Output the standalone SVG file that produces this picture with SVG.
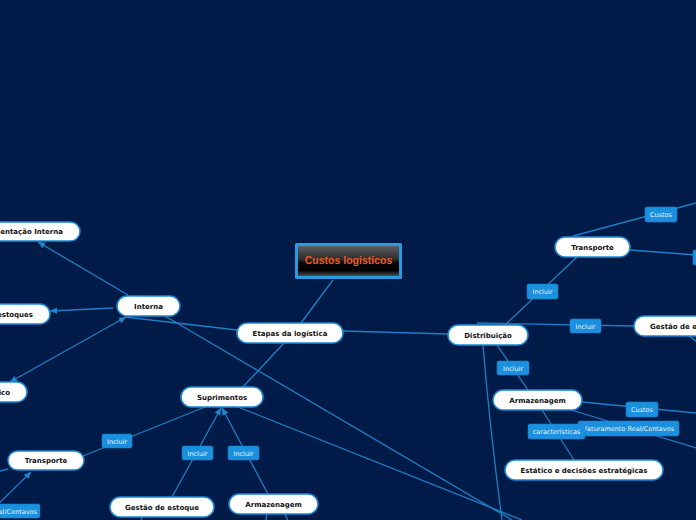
<svg xmlns="http://www.w3.org/2000/svg" width="696" height="520" viewBox="0 0 696 520">
<defs>
<linearGradient id="cg" x1="0" y1="0" x2="0" y2="1">
<stop offset="0" stop-color="#5e5e5e"/>
<stop offset="0.45" stop-color="#2c2c2c"/>
<stop offset="0.55" stop-color="#0a0a0a"/>
<stop offset="0.82" stop-color="#000"/>
<stop offset="1" stop-color="#505050"/>
</linearGradient>
<marker id="ar" markerUnits="userSpaceOnUse" markerWidth="8" markerHeight="8" refX="7" refY="4" orient="auto-start-reverse">
<path d="M0,0.8 L7,4 L0,7.2 Z" fill="#1e86d0"/>
</marker>
<style>
.bg{fill:#001b48}
.ln{stroke:#1e7fc6;stroke-width:1.3;fill:none}
.pill{fill:#fff;stroke:#1a8ad8;stroke-width:1.5}
.nt{font-family:"DejaVu Sans",Verdana,sans-serif;font-size:7px;font-weight:bold;fill:#111;text-anchor:middle}
.lb{fill:#1a90de;stroke:#1580c8;stroke-width:0.6}
.lt{font-family:"DejaVu Sans",Verdana,sans-serif;font-size:6.5px;fill:#e8f4ff;text-anchor:middle}
</style>
</defs>
<rect class="bg" x="0" y="0" width="696" height="520"/>
<g id="connectors">
<line class="ln" x1="333" y1="280" x2="301" y2="323"/>
<line class="ln" x1="284" y1="343" x2="243" y2="387"/>
<line class="ln" x1="237" y1="330" x2="125" y2="317"/>
<line class="ln" x1="165" y1="316" x2="512" y2="520"/>
<line class="ln" x1="238" y1="407" x2="522" y2="520"/>
<path class="ln" d="M483,345 Q490,430 502,520"/>
<line class="ln" x1="343" y1="331" x2="448" y2="334"/>
<line class="ln" x1="577" y1="257" x2="505" y2="325"/>
<line class="ln" x1="477" y1="323" x2="634" y2="326"/>
<line class="ln" x1="573" y1="236" x2="696" y2="203"/>
<line class="ln" x1="630" y1="250" x2="696" y2="255"/>
<line class="ln" x1="689" y1="336" x2="700" y2="344"/>
<line class="ln" x1="497" y1="345" x2="528" y2="390"/>
<line class="ln" x1="582" y1="402" x2="696" y2="413"/>
<line class="ln" x1="568" y1="409" x2="696" y2="448"/>
<line class="ln" x1="542" y1="410" x2="574" y2="460"/>
<line class="ln" x1="128" y1="295" x2="38" y2="242" marker-end="url(#ar)"/>
<line class="ln" x1="113" y1="308" x2="50" y2="311" marker-end="url(#ar)"/>
<line class="ln" x1="126" y1="317" x2="10" y2="382" marker-start="url(#ar)" marker-end="url(#ar)"/>
<line class="ln" x1="205" y1="407" x2="83" y2="456"/>
<line class="ln" x1="172" y1="497" x2="221" y2="408" marker-end="url(#ar)"/>
<line class="ln" x1="268" y1="494" x2="222" y2="408" marker-end="url(#ar)"/>
<line class="ln" x1="8" y1="469" x2="-4" y2="472"/>
<line class="ln" x1="-20" y1="522" x2="31" y2="472" marker-end="url(#ar)"/>
<line class="ln" x1="142" y1="517" x2="140" y2="525"/>
<line class="ln" x1="267" y1="514" x2="265" y2="525"/>
<line class="ln" x1="285" y1="514" x2="290" y2="525"/>
</g>
<g id="custos-logisticos">
<rect x="295" y="243" width="107" height="36" rx="1.5" fill="#2a9ae2"/>
<rect x="298" y="246" width="101" height="30" fill="url(#cg)"/>
<text x="348.5" y="263.8" font-family="'Liberation Sans',Arial,sans-serif" font-size="10.5" font-weight="bold" fill="#ee5a22" text-anchor="middle">Custos logisticos</text>
</g>
<g id="etapas"><rect class="pill" x="237" y="323" width="106" height="20" rx="10"/><text class="nt" x="290" y="335.5">Etapas da logística</text></g>
<g id="interna"><rect class="pill" x="117" y="296" width="63" height="20" rx="10"/><text class="nt" x="148.5" y="308.5">Interna</text></g>
<g id="movimentacao"><rect class="pill" x="-60" y="222" width="140" height="19" rx="9.5"/><text class="nt" x="63" y="234" style="text-anchor:end">entação Interna</text></g>
<g id="estoques"><rect class="pill" x="-60" y="304" width="110" height="20" rx="10"/><text class="nt" x="33" y="316.5" style="text-anchor:end">estoques</text></g>
<g id="fisico"><rect class="pill" x="-60" y="382" width="87" height="20" rx="10"/><text class="nt" x="10" y="394.5" style="text-anchor:end">ico</text></g>
<g id="suprimentos"><rect class="pill" x="181" y="387" width="82" height="20" rx="10"/><text class="nt" x="222" y="399.5">Suprimentos</text></g>
<g id="transporte-s"><rect class="pill" x="8" y="451" width="76" height="19" rx="9.5"/><text class="nt" x="46" y="463">Transporte</text></g>
<g id="gestao-s"><rect class="pill" x="110" y="497" width="104" height="20" rx="10"/><text class="nt" x="162" y="509.5">Gestão de estoque</text></g>
<g id="armazenagem-s"><rect class="pill" x="229" y="494" width="89" height="20" rx="10"/><text class="nt" x="273.5" y="506.5">Armazenagem</text></g>
<g id="distribuicao"><rect class="pill" x="448" y="325" width="80" height="20" rx="10"/><text class="nt" x="488" y="337.5">Distribuição</text></g>
<g id="transporte-d"><rect class="pill" x="555" y="237" width="75" height="20" rx="10"/><text class="nt" x="592.5" y="249.5">Transporte</text></g>
<g id="gestao-d"><rect class="pill" x="634" y="316" width="120" height="20" rx="10"/><text class="nt" x="650" y="328.5" style="text-anchor:start">Gestão de estoque</text></g>
<g id="armazenagem-d"><rect class="pill" x="493" y="390" width="89" height="20" rx="10"/><text class="nt" x="537.5" y="402.5">Armazenagem</text></g>
<g id="estatico"><rect class="pill" x="505" y="460" width="158" height="20" rx="10"/><text class="nt" x="584" y="472.5">Estático e decisões estratégicas</text></g>
<g id="labels">
<rect class="lb" x="527" y="284" width="31" height="15" rx="2"/><text class="lt" x="542.5" y="294">Incluir</text>
<rect class="lb" x="570" y="319" width="31" height="14" rx="2"/><text class="lt" x="585.5" y="328.5">Incluir</text>
<rect class="lb" x="645" y="207" width="32" height="15" rx="2"/><text class="lt" x="661" y="217">Custos</text>
<rect class="lb" x="693" y="250" width="20" height="15" rx="2"/>
<rect class="lb" x="497" y="361" width="32" height="14" rx="2"/><text class="lt" x="513" y="370.5">Incluir</text>
<rect class="lb" x="626" y="402" width="32" height="15" rx="2"/><text class="lt" x="642" y="412">Custos</text>
<rect class="lb" x="578" y="421" width="101" height="15" rx="2"/><text class="lt" x="629" y="431">Faturamento Real/Centavos</text>
<rect class="lb" x="528" y="424" width="57" height="15" rx="2"/><text class="lt" x="556.5" y="434">características</text>
<rect class="lb" x="102" y="434" width="30" height="14" rx="2"/><text class="lt" x="117" y="443.5">Incluir</text>
<rect class="lb" x="182" y="446" width="31" height="14" rx="2"/><text class="lt" x="197.5" y="455.5">Incluir</text>
<rect class="lb" x="228" y="446" width="31" height="14" rx="2"/><text class="lt" x="243.5" y="455.5">Incluir</text>
<rect class="lb" x="-60" y="504" width="100" height="14" rx="2"/><text class="lt" x="37" y="513.5" style="text-anchor:end">al/Centavos</text>
</g>
</svg>
